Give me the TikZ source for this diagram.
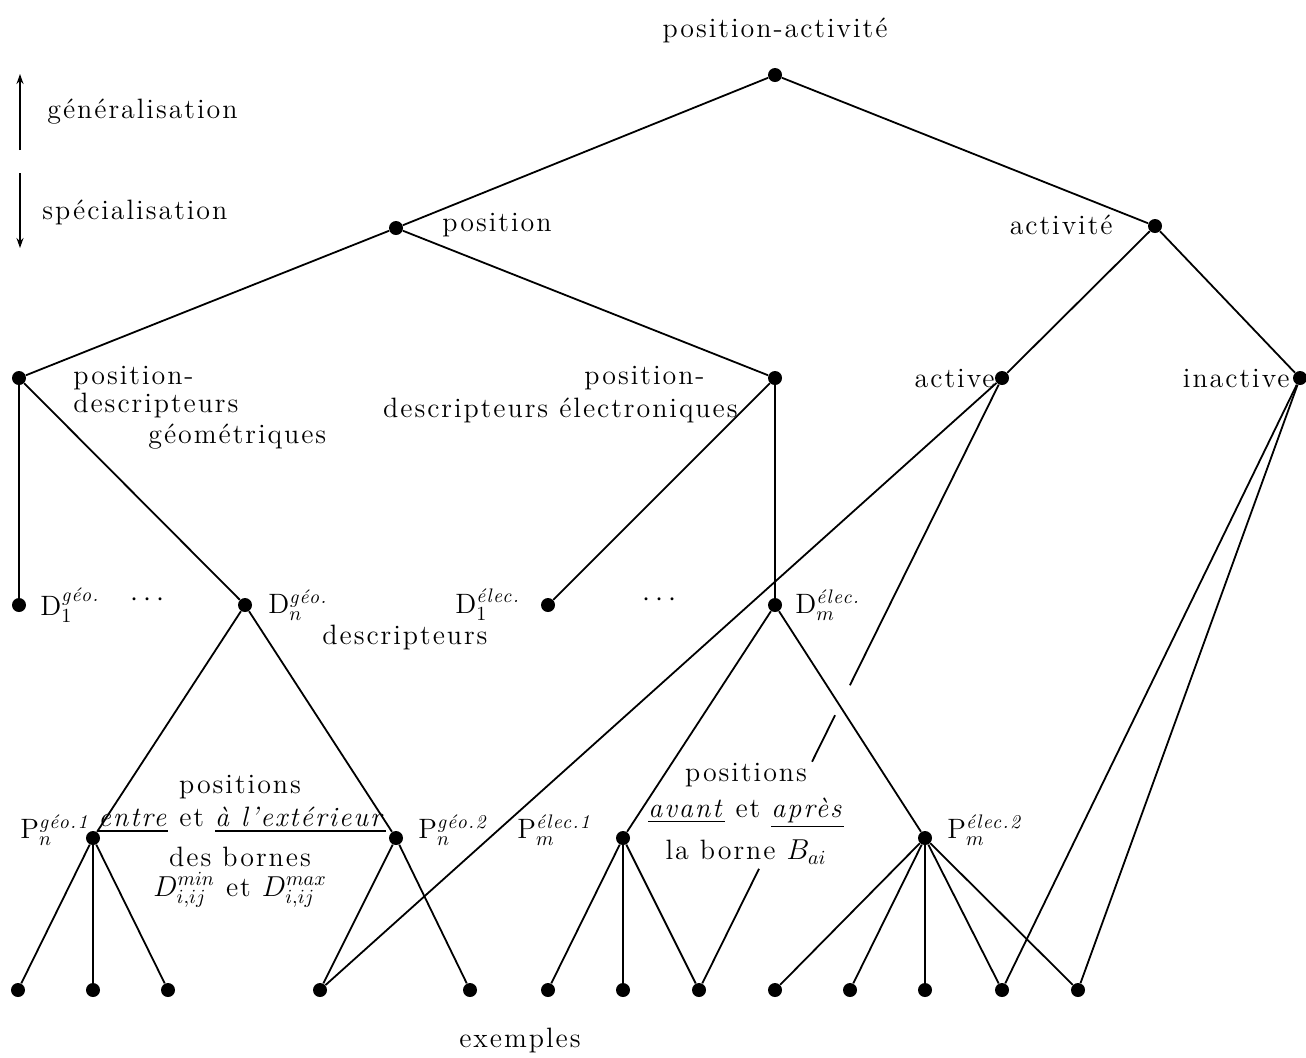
\documentclass[tikz,border=0pt]{standalone}
\usepackage{amsmath}
\usepackage{fontspec}
\setmainfont{Latin Modern Roman}[LetterSpace=7]
\usetikzlibrary{arrows.meta,calc}
\begin{document}
\begin{tikzpicture}[x=0.5pt,y=-0.5pt,
  dot/.style={circle,fill=black,inner sep=0pt,minimum size=7pt},
  lbl/.style={inner sep=0pt,font=\fontsize{14}{17}\selectfont},
  edge/.style={line width=0.9pt},
  tip/.style={line width=0.8pt,-{Stealth[length=5pt,width=3.5pt]}},
]
\useasboundingbox (0,0) rectangle (1306,1057);
% tree nodes
\node[dot] (root) at (775,75) {};
\node[dot] (pos) at (396,228) {};
\node[dot] (act) at (1155,226) {};
\node[dot] (pg) at (19,378) {};
\node[dot] (pe) at (775,378) {};
\node[dot] (active) at (1002,378) {};
\node[dot] (inact) at (1300,378) {};
\node[dot] (d1g) at (19,605) {};
\node[dot] (dng) at (245,605) {};
\node[dot] (d1e) at (548,605) {};
\node[dot] (dme) at (775,605) {};
\node[dot] (pn1) at (93,838) {};
\node[dot] (pn2) at (396,838) {};
\node[dot] (pm1) at (623,838) {};
\node[dot] (pm2) at (925,838) {};
\foreach \i/\x in {1/18,2/93,3/168,4/320,5/470,6/548,7/623,8/699,9/775,10/850,11/925,12/1002,13/1078}
  \node[dot] (l\i) at (\x,990) {};
% edges
\draw[edge] (root) -- (pos);
\draw[edge] (root) -- (act);
\draw[edge] (pos) -- (pg);
\draw[edge] (pos) -- (pe);
\draw[edge] (act) -- (active);
\draw[edge] (act) -- (inact);
\draw[edge] (pg) -- (d1g);
\draw[edge] (pg) -- (dng);
\draw[edge] (pe) -- (d1e);
\draw[edge] (pe) -- (dme);
\draw[edge] (dng) -- (pn1);
\draw[edge] (dng) -- (pn2);
\draw[edge] (dme) -- (pm1);
\draw[edge] (dme) -- (pm2);
\foreach \i in {1,2,3} \draw[edge] (pn1) -- (l\i);
\foreach \i in {4,5} \draw[edge] (pn2) -- (l\i);
\foreach \i in {6,7,8} \draw[edge] (pm1) -- (l\i);
\foreach \i in {9,10,11,12,13} \draw[edge] (pm2) -- (l\i);
\draw[edge] (active) -- (l4);
\draw[edge] (active) -- ($(active)!0.502!(l8)$);
\draw[edge] ($(active)!0.551!(l8)$) -- ($(active)!0.627!(l8)$);
\draw[edge] ($(active)!0.802!(l8)$) -- (l8);
\draw[edge] (inact) -- (l12);
\draw[edge] (inact) -- (l13);
% legend arrows
\coordinate (ga) at (20,150);
\coordinate (gb) at (20,74);
\coordinate (sa) at (20,173);
\coordinate (sb) at (20,248);
\draw[tip] (ga) -- (gb);
\draw[tip] (sa) -- (sb);
% labels
\node[lbl] (t0) at (775,30) {position-activité};
\node[lbl,anchor=west] (tg) at (47,112) {généralisation};
\node[lbl,anchor=west] (ts) at (42,212) {spécialisation};
\node[lbl,anchor=west] (tpos) at (442,225) {position};
\node[lbl,anchor=east] (tact) at (1113,225) {activité};
\node[lbl,anchor=west] (tpg1) at (73,378) {position-};
\node[lbl,anchor=west] (tpg2) at (73,405) {descripteurs};
\node[lbl,anchor=west] (tpg3) at (148,437) {géométriques};
\node[lbl,anchor=east] (tpe1) at (705,378) {position-};
\node[lbl,anchor=east] (tpe2) at (738,410) {descripteurs électroniques};
\node[lbl,anchor=east] (tactive) at (995,378) {active};
\node[lbl,anchor=east] (tinact) at (1290,378) {inactive};
\node[lbl,anchor=west] (td1g) at (40,605) {$\mathrm{D}_1^{\textit{géo.}}$};
\node[lbl] (tdots1) at (150,600) {$\cdots$};
\node[lbl,anchor=west] (tdng) at (268,605) {$\mathrm{D}_n^{\textit{géo.}}$};
\node[lbl,anchor=west] (td1e) at (455,605) {$\mathrm{D}_1^{\textit{élec.}}$};
\node[lbl] (tdots2) at (662,600) {$\cdots$};
\node[lbl,anchor=west] (tdme) at (795,605) {$\mathrm{D}_m^{\textit{élec.}}$};
\node[lbl] (tdesc) at (405,637) {descripteurs};
\node[lbl,anchor=west] (tpn1) at (20,830) {$\mathrm{P}_n^{\textit{géo.1}}$};
\node[lbl,anchor=west] (tpn2) at (418,830) {$\mathrm{P}_n^{\textit{géo.2}}$};
\node[lbl,anchor=west] (tpm1) at (517,830) {$\mathrm{P}_m^{\textit{élec.1}}$};
\node[lbl,anchor=west] (tpm2) at (947,830) {$\mathrm{P}_m^{\textit{élec.2}}$};
\node[lbl] (tb1) at (240,787) {positions};
\node[lbl] (tb2) at (242,820) {\underline{\textit{entre}} et \underline{\textit{à l'extérieur}}};
\node[lbl] (tb3) at (240,857) {des bornes};
\node[lbl] (tb4) at (240,890) {$D_{i,ij}^{min}$ et $D_{i,ij}^{max}$};
\node[lbl] (tc1) at (746,775) {positions};
\node[lbl] (tc2) at (746,813) {\underline{\textit{avant}} et \underline{\textit{après}}};
\node[lbl] (tc3) at (746,852) {la borne $B_{ai}$};
\node[lbl] (tex) at (520,1040) {exemples};
\end{tikzpicture}
\end{document}
